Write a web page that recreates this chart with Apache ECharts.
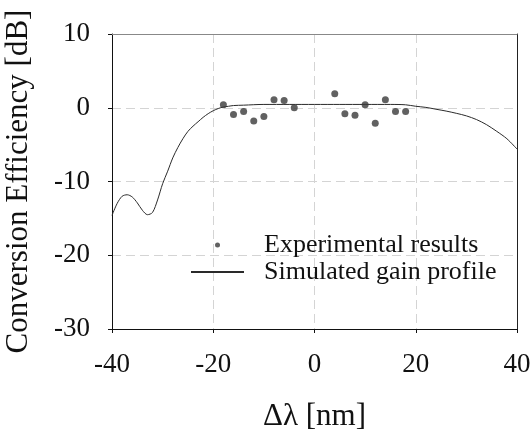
<!DOCTYPE html>
<html>
<head>
<meta charset="utf-8">
<script src="https://cdn.jsdelivr.net/npm/echarts@6/dist/echarts.min.js"></script>
<style>
  html, body { margin: 0; padding: 0; background: #fff; }
  #chart { width: 531px; height: 430px; }
</style>
</head>
<body>
<div id="chart"></div>
<script>
const expX = [-18, -16, -14, -12, -10, -8, -6, -4, 4, 6, 8, 10, 12, 14, 16, 18];
const expY = [0.4, -0.9, -0.5, -1.8, -1.2, 1.1, 1.0, 0.0, 1.9, -0.8, -1.0, 0.4, -2.1, 1.1, -0.5, -0.5];

// simulated gain profile
const simX = [-40, -39, -38, -37, -36, -35, -34, -33, -32, -31, -30, -29, -28, -27, -26, -25, -24, -23, -22, -21, -20, -19, -18, -17, -16, -14, -10, -5, 0, 5, 10, 15, 18, 20, 22, 24, 26, 28, 30, 32, 34, 36, 38, 40];
const simY = [-14.6, -13.0, -12.0, -11.8, -12.1, -12.9, -13.9, -14.5, -14.2, -12.5, -10.3, -8.6, -6.8, -5.4, -4.2, -3.2, -2.5, -1.9, -1.3, -0.8, -0.4, -0.1, 0.1, 0.2, 0.3, 0.35, 0.45, 0.45, 0.45, 0.45, 0.45, 0.45, 0.4, 0.2, 0.05, -0.2, -0.45, -0.75, -1.1, -1.6, -2.3, -3.2, -4.2, -5.6];

const xTicks = [-40, -20, 0, 20, 40];
const yTicks = [-30, -20, -10, 0, 10];

const seriesNames = ["Experimental results", "Simulated gain profile"];

const serif = "'Liberation Serif', 'Times New Roman', serif";
const gridDash = { color: "#d4d4d4", width: 1, type: [9, 5] };

const chart = echarts.init(document.getElementById("chart"));
chart.setOption({
  animation: false,
  textStyle: { fontFamily: serif, color: "#111" },
  grid: { left: 112, right: 14, top: 34, bottom: 101, containLabel: false, outerBoundsMode: "none" },
  legend: {
    orient: "vertical",
    left: 190,
    top: 232,
    padding: 0,
    itemWidth: 53,
    itemHeight: 5,
    itemGap: 1,
    data: [
      { name: seriesNames[0] },
      { name: seriesNames[1], itemStyle: { opacity: 0 } }
    ],
    textStyle: { fontFamily: serif, fontSize: 26, color: "#111", lineHeight: 26, padding: [0, 0, 0, 15] }
  },
  xAxis: [
    {
      type: "value",
      min: xTicks[0],
      max: xTicks[xTicks.length - 1],
      interval: 20,
      name: "\u0394\u03bb [nm]",
      nameLocation: "middle",
      nameGap: 72,
      nameTextStyle: { fontFamily: serif, fontSize: 31, color: "#111" },
      axisLine: { onZero: false, lineStyle: { color: "#111", width: 1 } },
      axisTick: { show: true, length: 4, lineStyle: { color: "#111" } },
      axisLabel: { fontFamily: serif, fontSize: 27, color: "#111", margin: 22 },
      splitLine: { show: true, lineStyle: gridDash }
    },
    {
      type: "value",
      position: "top",
      min: xTicks[0],
      max: xTicks[xTicks.length - 1],
      interval: 20,
      axisLine: { show: true, onZero: false, lineStyle: { color: "#888", width: 1 } },
      axisTick: { show: false },
      axisLabel: { show: false },
      splitLine: { show: false }
    }
  ],
  yAxis: [
    {
      type: "value",
      min: yTicks[0],
      max: yTicks[yTicks.length - 1],
      interval: 10,
      name: "Conversion Efficiency [dB]",
      nameLocation: "middle",
      nameGap: 78,
      nameTextStyle: { fontFamily: serif, fontSize: 31, color: "#111" },
      axisLine: { show: true, onZero: false, lineStyle: { color: "#111", width: 1 } },
      axisTick: { show: true, length: 4, lineStyle: { color: "#111" } },
      axisLabel: { fontFamily: serif, fontSize: 27, color: "#111", margin: 22 },
      splitLine: { show: true, lineStyle: gridDash }
    },
    {
      type: "value",
      position: "right",
      min: yTicks[0],
      max: yTicks[yTicks.length - 1],
      interval: 10,
      axisLine: { show: true, onZero: false, lineStyle: { color: "#222", width: 1 } },
      axisTick: { show: false },
      axisLabel: { show: false },
      splitLine: { show: false }
    }
  ],
  series: [
    {
      name: seriesNames[0],
      type: "scatter",
      symbol: "circle",
      symbolSize: 7,
      symbolKeepAspect: true,
      itemStyle: { color: "#3a3a3a" },
      z: 3,
      data: expX.map((x, i) => [x, expY[i]])
    },
    {
      name: seriesNames[1],
      type: "line",
      showSymbol: false,
      symbol: "none",
      smooth: 0.3,
      lineStyle: { color: "#2a2a2a", width: 1 },
      itemStyle: { color: "#2a2a2a" },
      z: 2,
      data: simX.map((x, i) => [x, simY[i]])
    }
  ]
});
</script>
</body>
</html>
